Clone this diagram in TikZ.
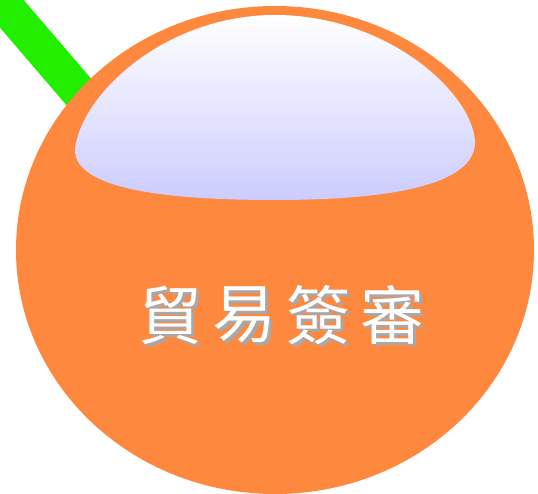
\documentclass[tikz,border=0pt]{standalone}
\usepackage{fontspec}
\usepackage{tikz}
\usepackage{xcolor}
\newfontfamily\cjk{Noto Sans CJK TC}

\definecolor{ballorange}{HTML}{FF883F}
\definecolor{stemgreen}{HTML}{22EE00}
\definecolor{glosslav}{HTML}{CCCCFF}
\definecolor{shadowgray}{HTML}{A8A8A8}

\begin{document}
\begin{tikzpicture}[x=1pt,y=-1pt,
  ball_shape/.style={fill=ballorange},
  stem_line/.style={draw=stemgreen,line width=36pt},
  gloss_shape/.style={top color=white,bottom color=glosslav},
  char_shadow/.style={text=shadowgray,font=\cjk\fontsize{64}{64}\selectfont,inner sep=0pt},
  char_front/.style={text=white,font=\cjk\fontsize{64}{64}\selectfont,inner sep=0pt}]

\clip (0,0) rectangle (538,494);

\coordinate (stem_top) at (-30,-35);
\coordinate (stem_end) at (150,175);
\path[stem_line] (stem_top) -- (stem_end);

\fill[ball_shape] (275,250) ellipse [x radius=259pt, y radius=244pt];

\shade[gloss_shape] (75,150) .. controls (80,95) and (165,15) .. (275,15)
  .. controls (385,15) and (470,90) .. (475,140)
  .. controls (478,190) and (370,200) .. (275,200)
  .. controls (170,200) and (75,190) .. (75,150) -- cycle;

\foreach \ch [count=\i from 0] in {貿,易,簽,審} {
  \node[char_shadow] (shadow\i) at (173+74*\i,318) {\ch};
  \node[char_front] (char\i) at (170+74*\i,315) {\ch};
}

\end{tikzpicture}
\end{document}
